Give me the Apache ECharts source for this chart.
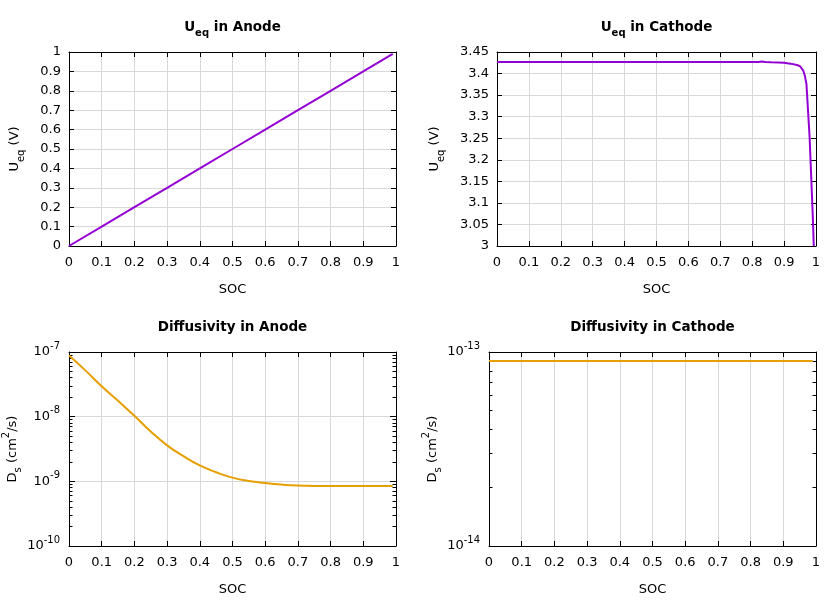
<!DOCTYPE html>
<html><head><meta charset="utf-8">
<script src="https://cdn.jsdelivr.net/npm/echarts@6/dist/echarts.min.js"></script>
<style>html,body{margin:0;padding:0;background:#fff}#c{width:840px;height:600px}</style>
</head><body><div id="c"></div>
<script>
// ---- data ----
const socAnodeU = [0, 0.1, 0.2, 0.3, 0.4, 0.5, 0.6, 0.7, 0.8, 0.9, 0.99];
const ueqAnode  = [0, 0.1, 0.2, 0.3, 0.4, 0.5, 0.6, 0.7, 0.8, 0.9, 0.99];

const socCathodeU = [0, 0.1, 0.2, 0.3, 0.4, 0.5, 0.6, 0.7, 0.8, 0.82, 0.83, 0.84, 0.86, 0.9, 0.92, 0.94, 0.95, 0.96, 0.965, 0.97, 0.975, 0.98, 0.985, 0.99, 0.993];
const ueqCathode  = [3.427, 3.427, 3.427, 3.427, 3.427, 3.427, 3.427, 3.427, 3.427, 3.427, 3.428, 3.427, 3.426, 3.425, 3.423, 3.420, 3.417, 3.407, 3.395, 3.376, 3.314, 3.252, 3.16, 3.068, 3.0];

const socAnodeD = [0, 0.05, 0.1, 0.15, 0.2, 0.25, 0.3, 0.35, 0.4, 0.45, 0.5, 0.55, 0.6, 0.65, 0.7, 0.75, 0.8, 0.85, 0.9, 0.95, 0.99];
const dsAnode   = [8.8e-8, 5.2e-8, 2.95e-8, 1.76e-8, 1.03e-8, 5.9e-9, 3.6e-9, 2.45e-9, 1.76e-9, 1.38e-9, 1.14e-9, 1.01e-9, 9.4e-10, 8.9e-10, 8.6e-10, 8.5e-10, 8.45e-10, 8.45e-10, 8.45e-10, 8.45e-10, 8.45e-10];

const socCathodeD = [0, 0.99];
const dsCathode   = [9.0e-14, 9.0e-14];

const titles = ['{b|U}{bsub|eq}{b| in Anode}', '{b|U}{bsub|eq}{b| in Cathode}', '{b|Diffusivity in Anode}', '{b|Diffusivity in Cathode}'];
const yNames = ['{n|U}{sub|eq}{n| (V)}', '{n|U}{sub|eq}{n| (V)}', '{n|D}{sub|s}{n| (cm}{sup|2}{n|/s)}', '{n|D}{sub|s}{n| (cm}{sup|2}{n|/s)}'];
const xName = 'SOC';

const minorAnodeD = [2e-10, 3e-10, 4e-10, 5e-10, 6e-10, 7e-10, 8e-10, 9e-10,
                     2e-9, 3e-9, 4e-9, 5e-9, 6e-9, 7e-9, 8e-9, 9e-9,
                     2e-8, 3e-8, 4e-8, 5e-8, 6e-8, 7e-8, 8e-8, 9e-8];
const minorCathodeD = [2e-14, 3e-14, 4e-14, 5e-14, 6e-14, 7e-14, 8e-14, 9e-14];

// ---- style ----
const FONT = 'DejaVu Sans';
const PURPLE = '#9400d3';
const ORANGE = '#e69f00';
const GRIDC = '#d8d8d8';
const rich = {
  n: {fontSize: 13, fontFamily: FONT, color: '#000', lineHeight: 22},
  b: {fontSize: 13.5, fontFamily: FONT, color: '#000', fontWeight: 'bold', lineHeight: 22},
  sub: {fontSize: 10, fontFamily: FONT, color: '#000', lineHeight: 13, verticalAlign: 'bottom'},
  bsub: {fontSize: 10, fontFamily: FONT, color: '#000', fontWeight: 'bold', lineHeight: 13, verticalAlign: 'bottom'},
  sup: {fontSize: 10, fontFamily: FONT, color: '#000', lineHeight: 13, verticalAlign: 'top'}
};
const grids = [
  {left: 69, top: 52, width: 327, height: 194},
  {left: 497, top: 52, width: 319, height: 194},
  {left: 69, top: 352, width: 327, height: 194},
  {left: 489, top: 352, width: 327, height: 194}
];
const axisLine = {show: true, onZero: false, lineStyle: {color: '#000', width: 1}};
const lbl = {color: '#000', fontFamily: FONT, fontSize: 13};

const xAxis = [], yAxis = [], series = [];
function addX(g) {
  xAxis.push({gridIndex: g, type: 'value', min: 0, max: 1, interval: 0.1, position: 'bottom',
    axisLine, axisTick: {inside: true, length: 5, lineStyle: {color: '#000'}},
    axisLabel: Object.assign({margin: 10}, lbl),
    splitLine: {show: true, lineStyle: {color: GRIDC, width: 1}},
    name: xName, nameLocation: 'middle', nameGap: 37, nameTextStyle: {color: '#000', fontFamily: FONT, fontSize: 13}});
  xAxis.push({gridIndex: g, type: 'value', min: 0, max: 1, interval: 0.1, position: 'top',
    axisLine, axisTick: {inside: true, length: 5, lineStyle: {color: '#000'}},
    axisLabel: {show: false}, splitLine: {show: false},
    name: titles[g], nameLocation: 'middle', nameGap: 14, nameTextStyle: {rich}});
  return xAxis.length - 2;
}
function addYLinear(g, min, max, interval, gap) {
  yAxis.push({gridIndex: g, type: 'value', min, max, interval, position: 'left',
    axisLine, axisTick: {inside: true, length: 5, lineStyle: {color: '#000'}},
    axisLabel: Object.assign({margin: 8}, lbl),
    splitLine: {show: true, lineStyle: {color: GRIDC, width: 1}},
    name: yNames[g], nameLocation: 'middle', nameGap: gap, nameTextStyle: {rich}});
  yAxis.push({gridIndex: g, type: 'value', min, max, interval, position: 'right',
    axisLine, axisTick: {inside: true, length: 5, lineStyle: {color: '#000'}},
    axisLabel: {show: false}, splitLine: {show: false}});
  return yAxis.length - 2;
}
function addYLog(g, min, max, minor, gap) {
  yAxis.push({gridIndex: g, type: 'log', logBase: 10, min, max, position: 'left',
    axisLine, axisTick: {inside: true, length: 6, lineStyle: {color: '#000'}},
    axisLabel: {margin: 9, formatter: v => '{n|10}{sup|' + Math.round(Math.log10(v)) + '}', rich},
    splitLine: {show: true, lineStyle: {color: GRIDC, width: 1}},
    name: yNames[g], nameLocation: 'middle', nameGap: gap, nameTextStyle: {rich}});
  yAxis.push({gridIndex: g, type: 'log', logBase: 10, min, max, position: 'right',
    axisLine, axisTick: {inside: true, length: 6, lineStyle: {color: '#000'}},
    axisLabel: {show: false}, splitLine: {show: false}});
  yAxis.push({gridIndex: g, type: 'log', logBase: 10, min, max, position: 'left',
    axisLine: {show: false, onZero: false}, axisTick: {inside: true, length: 3.5, customValues: minor, lineStyle: {color: '#000'}},
    axisLabel: {show: false}, splitLine: {show: false}});
  yAxis.push({gridIndex: g, type: 'log', logBase: 10, min, max, position: 'right',
    axisLine: {show: false, onZero: false}, axisTick: {inside: true, length: 3.5, customValues: minor, lineStyle: {color: '#000'}},
    axisLabel: {show: false}, splitLine: {show: false}});
  return yAxis.length - 4;
}
function addSeries(xi, yi, xs, ys, color, smooth) {
  series.push({type: 'line', xAxisIndex: xi, yAxisIndex: yi, showSymbol: false, symbol: 'none',
    smooth: smooth || false,
    lineStyle: {color, width: 2}, itemStyle: {color},
    data: xs.map((x, i) => [x, ys[i]])});
}

let xi, yi;
xi = addX(0); yi = addYLinear(0, 0, 1, 0.1, 43); addSeries(xi, yi, socAnodeU, ueqAnode, PURPLE);
xi = addX(1); yi = addYLinear(1, 3, 3.45, 0.05, 51); addSeries(xi, yi, socCathodeU, ueqCathode, PURPLE);
xi = addX(2); yi = addYLog(2, 1e-10, 1e-7, minorAnodeD, 44); addSeries(xi, yi, socAnodeD, dsAnode, ORANGE, 0.5);
xi = addX(3); yi = addYLog(3, 1e-14, 1e-13, minorCathodeD, 42); addSeries(xi, yi, socCathodeD, dsCathode, ORANGE);

const chart = echarts.init(document.getElementById('c'), null, {renderer: 'canvas'});
chart.setOption({animation: false, backgroundColor: '#fff', grid: grids, xAxis, yAxis, series});
</script></body></html>
